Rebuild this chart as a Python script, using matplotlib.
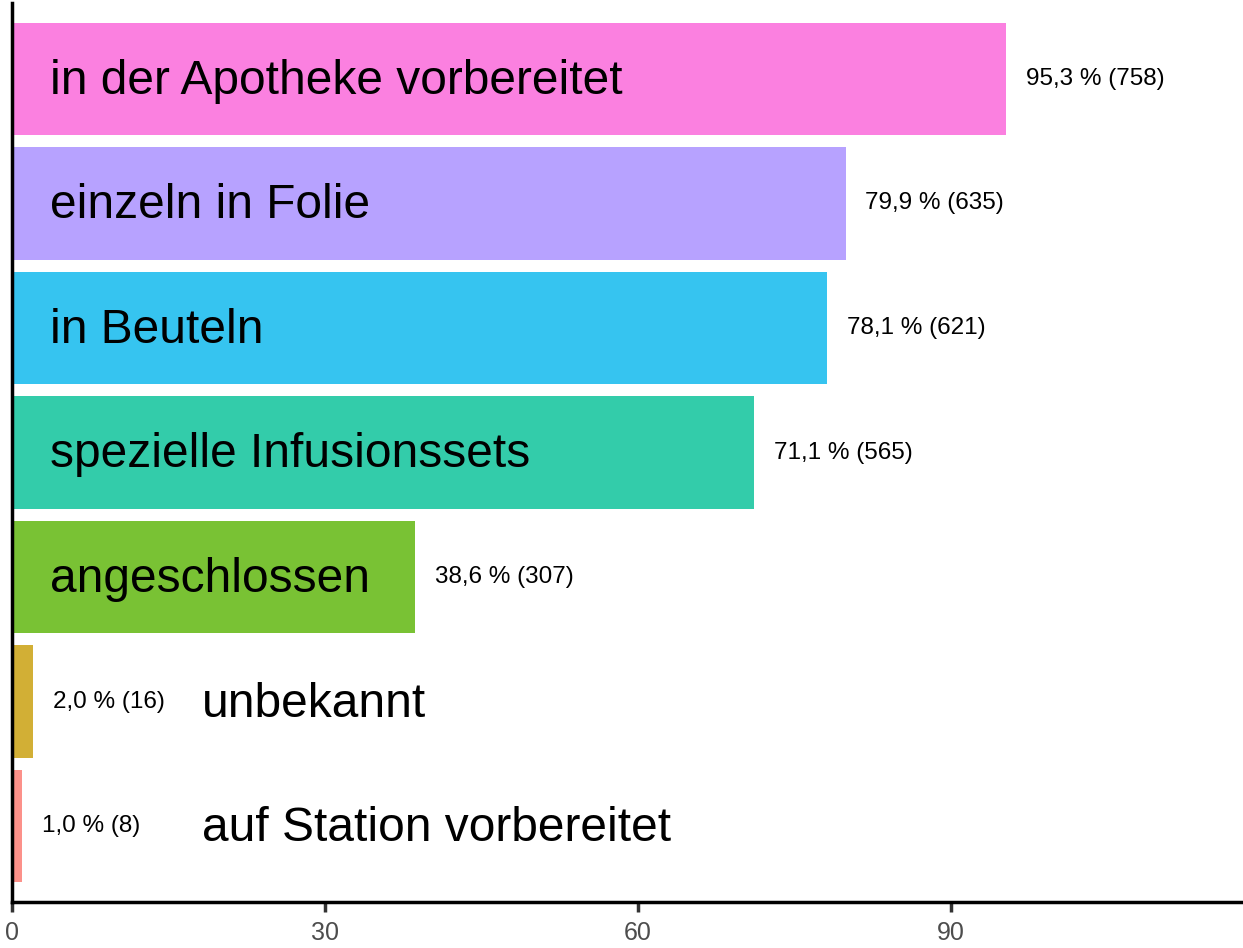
import matplotlib
matplotlib.use("Agg")
import matplotlib.pyplot as plt

plt.rcParams['font.family'] = ['Liberation Sans', 'DejaVu Sans']

categories = ['in der Apotheke vorbereitet', 'einzeln in Folie', 'in Beuteln',
              'spezielle Infusionssets', 'angeschlossen', 'unbekannt',
              'auf Station vorbereitet']
percent = [95.3, 79.9, 78.1, 71.1, 38.6, 2.0, 1.0]
counts = [758, 635, 621, 565, 307, 16, 8]
colors = ['#FB80E0', '#B7A2FF', '#36C4F0', '#33CCAA', '#79C234', '#D2AF35', '#FC918A']

fig = plt.figure(figsize=(12.43, 9.48), dpi=100)
ax = fig.add_axes([12 / 1243, (948 - 902) / 948, 1231 / 1243, 899 / 948])

y = list(range(len(categories)))
ax.barh(y, percent, height=0.9, color=colors)

for i, (p, n, name) in enumerate(zip(percent, counts, categories)):
    val = f"{p:.1f}".replace('.', ',') + f" % ({n})"
    ax.text(p + 1.9, i, val, ha='left', va='center', fontsize=17.5, color='black')
    # long bars carry their name inside, short ones to the right
    lx = 3.6 if p > 20 else 18.2
    ax.text(lx, i + 0.02, name, ha='left', va='center', fontsize=34.5, color='black')

ax.set_xlim(0, 118)
ax.set_ylim(len(categories) - 1 + 0.61, -0.61)
ax.set_xticks([0, 30, 60, 90])
ax.set_yticks([])
ax.tick_params(axis='x', colors='#333333', labelcolor='#4D4D4D', labelsize=18,
               length=7, width=2.5, pad=7)
for s in ['top', 'right']:
    ax.spines[s].set_visible(False)
for s in ['left', 'bottom']:
    ax.spines[s].set_linewidth(2.5)
    ax.spines[s].set_color('black')

fig.savefig('out.png', dpi=100)
